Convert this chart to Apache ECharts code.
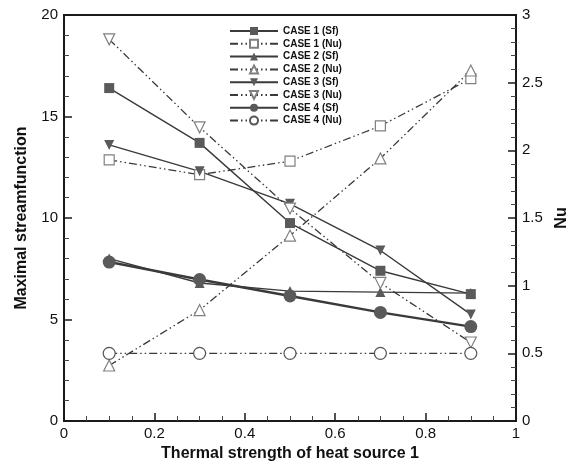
<!DOCTYPE html>
<html>
<head>
<meta charset="utf-8">
<script src="https://cdn.jsdelivr.net/npm/echarts@6/dist/echarts.min.js"></script>
<style>
  html, body { margin: 0; padding: 0; background: #fff; }
  #chart { width: 580px; height: 467px; }
</style>
</head>
<body>
<div id="chart"></div>
<script>
// Thermal strength of heat source 1 (x values shared by every case)
const strength = [0.1, 0.3, 0.5, 0.7, 0.9];

// Maximal streamfunction (left axis)
const case1Sf = [16.4, 13.7, 9.75, 7.4, 6.25];
const case2Sf = [8.0, 6.8, 6.4, 6.35, 6.3];
const case3Sf = [13.6, 12.3, 10.7, 8.4, 5.25];
const case4Sf = [7.83, 6.97, 6.16, 5.35, 4.65];

// Nusselt number (right axis)
const case1Nu = [1.93, 1.82, 1.92, 2.18, 2.53];
const case2Nu = [0.41, 0.82, 1.37, 1.94, 2.59];
const case3Nu = [2.82, 2.17, 1.57, 1.02, 0.58];
const case4Nu = [0.5, 0.5, 0.5, 0.5, 0.5];

const seriesNames = [
  'CASE 1 (Sf)', 'CASE 1 (Nu)', 'CASE 2 (Sf)', 'CASE 2 (Nu)',
  'CASE 3 (Sf)', 'CASE 3 (Nu)', 'CASE 4 (Sf)', 'CASE 4 (Nu)'
];

const pairs = vals => strength.map((x, i) => [x, vals[i]]);

const dashDot = [8, 3, 1.5, 3, 1.5, 3];
const lineDark = '#3a3a3a';
const fillDark = '#5a5a5a';
const openEdge = '#808080';

function sfSeries(name, vals, symbol, size, width) {
  return {
    name, type: 'line', yAxisIndex: 0, data: pairs(vals),
    symbol, symbolSize: size,
    lineStyle: { color: lineDark, width: width },
    itemStyle: { color: fillDark, borderColor: fillDark, borderWidth: 0 },
    emphasis: { disabled: true }
  };
}

function nuSeries(name, vals, symbol, size, edge) {
  return {
    name, type: 'line', yAxisIndex: 1, data: pairs(vals),
    symbol, symbolSize: size,
    lineStyle: { color: lineDark, width: 1.3, type: dashDot },
    itemStyle: { color: '#ffffff', borderColor: edge, borderWidth: 1.2 },
    emphasis: { disabled: true }
  };
}

const chart = echarts.init(document.getElementById('chart'));

const tickFont = { color: '#111', fontSize: 15, fontFamily: 'Liberation Sans, Arial, sans-serif' };
const nameFont = { color: '#111', fontSize: 16, fontWeight: 'bold', fontFamily: 'Liberation Sans, Arial, sans-serif' };
const axisLine = { show: true, lineStyle: { color: '#1a1a1a', width: 2 } };

chart.setOption({
  animation: false,
  backgroundColor: '#ffffff',
  grid: {
    left: 64, right: 64, top: 15, bottom: 40,
    show: true, borderColor: '#1a1a1a', borderWidth: 2, backgroundColor: 'transparent'
  },
  legend: {
    orient: 'vertical',
    left: 224, top: 21,
    itemWidth: 48, itemHeight: 10, itemGap: 2.8,
    data: seriesNames,
    textStyle: { color: '#111', fontSize: 10, fontWeight: 'bold', fontFamily: 'Liberation Sans, Arial, sans-serif' }
  },
  xAxis: {
    type: 'value', min: 0, max: 1, interval: 0.2,
    name: 'Thermal strength of heat source 1',
    nameLocation: 'middle', nameGap: 25, nameTextStyle: nameFont,
    axisLine: axisLine,
    axisTick: { show: true, inside: true, length: 8, lineStyle: { color: '#1a1a1a', width: 1.5 } },
    minorTick: { show: true, splitNumber: 4, length: 5, lineStyle: { color: '#444', width: 1 } },
    axisLabel: Object.assign({ margin: 5 }, tickFont),
    splitLine: { show: false }
  },
  yAxis: [
    {
      type: 'value', min: 0, max: 20, interval: 5, position: 'left',
      name: 'Maximal streamfunction',
      nameLocation: 'middle', nameGap: 34, nameRotate: 90, nameTextStyle: nameFont,
      axisLine: axisLine,
      axisTick: { show: true, inside: true, length: 8, lineStyle: { color: '#1a1a1a', width: 1.5 } },
      minorTick: { show: true, splitNumber: 5, length: 5, lineStyle: { color: '#444', width: 1 } },
      axisLabel: Object.assign({ margin: 6 }, tickFont),
      splitLine: { show: false }
    },
    {
      type: 'value', min: 0, max: 3, interval: 0.5, position: 'right',
      name: 'Nu',
      nameLocation: 'middle', nameGap: 36, nameRotate: 90, nameTextStyle: nameFont,
      axisLine: axisLine,
      axisTick: { show: true, inside: true, length: 8, lineStyle: { color: '#1a1a1a', width: 1.5 } },
      minorTick: { show: true, splitNumber: 5, length: 5, lineStyle: { color: '#444', width: 1 } },
      axisLabel: Object.assign({ margin: 6 }, tickFont),
      splitLine: { show: false }
    }
  ],
  series: [
    sfSeries('CASE 1 (Sf)', case1Sf, 'rect', 10, 1.4),
    nuSeries('CASE 1 (Nu)', case1Nu, 'rect', 10, openEdge),
    sfSeries('CASE 2 (Sf)', case2Sf, 'triangle', 10, 1.4),
    nuSeries('CASE 2 (Nu)', case2Nu, 'triangle', 11, openEdge),
    sfSeries('CASE 3 (Sf)', case3Sf, 'path://M0,0 L10,0 L5,9 Z', 10, 1.4),
    nuSeries('CASE 3 (Nu)', case3Nu, 'path://M0,0 L10,0 L5,9 Z', 11, openEdge),
    sfSeries('CASE 4 (Sf)', case4Sf, 'circle', 13, 2.4),
    nuSeries('CASE 4 (Nu)', case4Nu, 'circle', 12, '#555')
  ]
});
</script>
</body>
</html>
